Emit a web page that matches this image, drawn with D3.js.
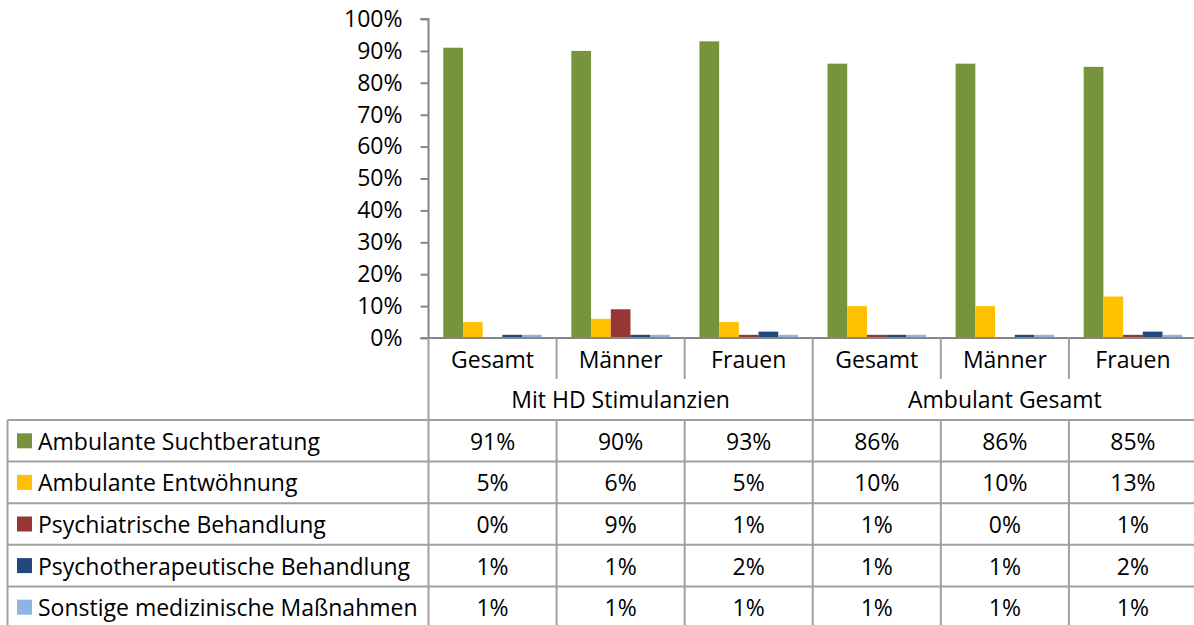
<!doctype html>
<html lang="de">

<head>
  <title>Behandlungen – Mit HD Stimulanzien vs. Ambulant Gesamt</title>
  <meta charset="utf-8" />
  <script src="https://d3js.org/d3.v7.min.js"></script>
  <style>
    body { margin: 0; background: #fff; }
    svg text { font-family: "Open Sans", "Noto Sans", sans-serif; fill: #000; }
  </style>
</head>

<body>
  <figure id="chart" style="margin:0"></figure>

  <script>
    // categories along the x axis, and the two groups underneath
    const categories = ["Gesamt", "Männer", "Frauen", "Gesamt", "Männer", "Frauen"];
    const groups = ["Mit HD Stimulanzien", "Ambulant Gesamt"];
    const groupSize = 3;

    // series (percent values per category)
    const seriesNames = [
      "Ambulante Suchtberatung",
      "Ambulante Entwöhnung",
      "Psychiatrische Behandlung",
      "Psychotherapeutische Behandlung",
      "Sonstige medizinische Maßnahmen"
    ];
    const suchtberatung = [91, 90, 93, 86, 86, 85];
    const entwoehnung = [5, 6, 5, 10, 10, 13];
    const psychiatrisch = [0, 9, 1, 1, 0, 1];
    const psychotherapeutisch = [1, 1, 2, 1, 1, 2];
    const sonstige = [1, 1, 1, 1, 1, 1];
    const seriesValues = [suchtberatung, entwoehnung, psychiatrisch, psychotherapeutisch, sonstige];
    const seriesColors = ["#77933C", "#FFC000", "#953735", "#1F497D", "#8EB4E3"];

    const yTicks = [0, 10, 20, 30, 40, 50, 60, 70, 80, 90, 100];

    const params = {
      width: 1194,
      height: 625,
      left: 428.5,
      right: 1197,
      top: 19,
      bottom: 338,
      catRowBottom: 379,
      tableTop: 420,
      rowHeight: 41.6,
      tableLeft: 7.5,
      grid: "#a0a0a0",
      fontSize: 23
    };

    const svg = d3.select("#chart").append("svg")
      .attr("width", params.width)
      .attr("height", params.height);

    const x0 = d3.scaleBand()
      .domain(d3.range(categories.length))
      .range([params.left, params.right]);

    const x1 = d3.scaleBand()
      .domain(d3.range(seriesNames.length))
      .range([0, x0.bandwidth()])
      .paddingInner(0)
      .paddingOuter(0.75);

    const y = d3.scaleLinear()
      .domain([0, 100])
      .range([params.bottom, params.top]);

    // y axis
    const yAxis = d3.axisLeft(y)
      .tickValues(yTicks)
      .tickFormat(d => d + "%")
      .tickSize(8)
      .tickPadding(18);

    const yg = svg.append("g")
      .attr("transform", `translate(${params.left},0)`)
      .call(yAxis);
    yg.selectAll("path, line").attr("stroke", "#868686").attr("stroke-width", 2);
    yg.select(".domain").attr("d", `M-8,${params.top}H0V${params.bottom}`);
    yg.selectAll("text")
      .style("font-family", '"Open Sans", "Noto Sans", sans-serif')
      .attr("font-size", params.fontSize)
      .attr("fill", "#000");

    // bars
    const catG = svg.selectAll("g.cat")
      .data(categories)
      .enter()
      .append("g")
      .attr("class", "cat")
      .attr("transform", (d, i) => `translate(${x0(i)},0)`);

    catG.selectAll("rect")
      .data((d, i) => seriesValues.map((vals, s) => ({ s, v: vals[i] })))
      .enter()
      .append("rect")
      .attr("x", d => x1(d.s))
      .attr("width", x1.bandwidth())
      .attr("y", d => y(d.v))
      .attr("height", d => y(0) - y(d.v))
      .attr("fill", d => seriesColors[d.s]);

    // x axis line
    const lines = svg.append("g").attr("stroke", params.grid).attr("stroke-width", 2);
    lines.append("line")
      .attr("x1", params.left - 8).attr("x2", params.right)
      .attr("y1", params.bottom).attr("y2", params.bottom)
      .attr("stroke", "#868686");

    // category separators
    categories.forEach((c, i) => {
      if (i === 0 || i % groupSize === 0) return;
      lines.append("line")
        .attr("x1", x0(i)).attr("x2", x0(i))
        .attr("y1", params.bottom).attr("y2", params.catRowBottom);
    });

    // group separators run through the table
    const tableBottom = params.tableTop + params.rowHeight * seriesNames.length;
    for (let g = 0; g <= groups.length; g++) {
      const xi = g * groupSize < categories.length ? x0(g * groupSize) : params.right;
      lines.append("line")
        .attr("x1", xi).attr("x2", xi)
        .attr("y1", params.bottom).attr("y2", tableBottom);
    }

    // category labels
    svg.append("g").selectAll("text")
      .data(categories)
      .enter()
      .append("text")
      .attr("x", (d, i) => x0(i) + x0.bandwidth() / 2)
      .attr("y", (params.bottom + params.catRowBottom) / 2)
      .attr("text-anchor", "middle")
      .attr("dominant-baseline", "central")
      .attr("font-size", params.fontSize)
      .text(d => d);

    // group labels
    svg.append("g").selectAll("text")
      .data(groups)
      .enter()
      .append("text")
      .attr("x", (d, g) => (x0(g * groupSize) + (g * groupSize + groupSize < categories.length ? x0(g * groupSize + groupSize) : params.right)) / 2)
      .attr("y", (params.catRowBottom + params.tableTop) / 2 - 1)
      .attr("text-anchor", "middle")
      .attr("dominant-baseline", "central")
      .attr("font-size", params.fontSize)
      .text(d => d);

    // data table
    const rowY = d3.scaleBand()
      .domain(d3.range(seriesNames.length))
      .range([params.tableTop, tableBottom]);

    // horizontal table lines
    for (let r = 0; r <= seriesNames.length; r++) {
      const yy = params.tableTop + r * params.rowHeight;
      lines.append("line")
        .attr("x1", params.tableLeft).attr("x2", params.right)
        .attr("y1", yy).attr("y2", yy);
    }
    // vertical table lines
    lines.append("line")
      .attr("x1", params.tableLeft).attr("x2", params.tableLeft)
      .attr("y1", params.tableTop).attr("y2", tableBottom);
    categories.forEach((c, i) => {
      if (i % groupSize === 0) return;
      lines.append("line")
        .attr("x1", x0(i)).attr("x2", x0(i))
        .attr("y1", params.tableTop).attr("y2", tableBottom);
    });

    const rows = svg.append("g").selectAll("g.row")
      .data(seriesNames)
      .enter()
      .append("g")
      .attr("class", "row")
      .attr("transform", (d, r) => `translate(0,${rowY(r) + rowY.bandwidth() / 2})`);

    rows.append("rect")
      .attr("x", 17)
      .attr("y", -7.5)
      .attr("width", 15)
      .attr("height", 15)
      .attr("fill", (d, r) => seriesColors[r]);

    rows.append("text")
      .attr("x", 38)
      .attr("y", 0)
      .attr("dominant-baseline", "central")
      .attr("font-size", params.fontSize)
      .text(d => d);

    rows.selectAll("text.val")
      .data((d, r) => seriesValues[r])
      .enter()
      .append("text")
      .attr("class", "val")
      .attr("x", (d, i) => x0(i) + x0.bandwidth() / 2)
      .attr("y", 0)
      .attr("text-anchor", "middle")
      .attr("dominant-baseline", "central")
      .attr("font-size", params.fontSize)
      .text(d => d + "%");
  </script>
</body>

</html>
